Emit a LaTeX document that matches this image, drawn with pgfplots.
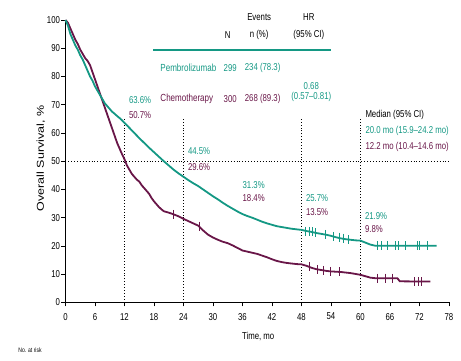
\documentclass[border=0pt]{standalone}
\usepackage{graphicx}
\usepackage{pgfplots}
\pgfplotsset{compat=1.18}
\usepackage{fontspec}
\setmainfont[FakeStretch=0.78]{Liberation Sans}
\definecolor{pem}{RGB}{20,152,132}
\definecolor{che}{RGB}{105,22,72}
\begin{document}
\begin{tikzpicture}
\useasboundingbox (-65.5pt,-58.5pt) rectangle (395.5pt,302.5pt);
\begin{axis}[
  scale only axis, width=383.5pt, height=282.5pt,
  xmin=0, xmax=78, ymin=0, ymax=100,
  axis lines=left, axis line style={-, line width=1.1pt},
  xtick={0,6,...,78}, ytick={0,10,...,100},
  tick align=outside, major tick length=4pt,
  tick style={line width=0.9pt, black},
  clip=false,
  /pgf/number format/assume math mode=true,
  ticklabel style={font=\fontsize{10}{11}\selectfont},
  xticklabel style={yshift=-3pt},
  yticklabel style={xshift=2pt},
]
% reference lines
\addplot[black, dotted, line width=0.9pt] coordinates {(0,50) (78,50)};
\addplot[black, dotted, line width=0.9pt] coordinates {(12,0) (12,65)};
\addplot[black, dotted, line width=0.9pt] coordinates {(24,0) (24,65)};
\addplot[black, dotted, line width=0.9pt] coordinates {(48,0) (48,65)};
\addplot[black, dotted, line width=0.9pt] coordinates {(60,0) (60,65)};
% chemotherapy
\addplot[che, line width=1.8pt] coordinates {
(0,100) (0.5,99) (1,97) (1.5,95) (2,93) (2.5,91.5) (3,89.5) (3.5,88) (4,86.5) (4.5,85.5)
(5,84) (5.5,81.5) (6,79) (6.5,76.5) (7,74) (7.5,71.5) (8,69) (8.5,66.5) (9,64) (9.5,61.5)
(10,59) (10.5,56.5) (11,54.5) (11.5,52.5) (12,50.7) (12.5,48.5) (13,47) (13.5,45.5) (14,44.5)
(14.5,43.5) (15,42.8) (15.5,41.5) (16,40.5) (16.5,39.5) (17,38.5) (17.5,37) (18,35.8)
(18.5,34.8) (19,33.8) (19.5,33) (20,32.3) (21,31.8) (22,31.2) (23,30.5) (24,29.6) (25,28.8)
(26,28) (27,27.2) (28,25.5) (29,24) (30,23) (31,22.2) (32,21.5) (33,21) (34,20.2) (35,19.3)
(36,18.4) (37,18) (38,17.6) (39,17.2) (40,16.6) (41,16) (42,15.3) (43,14.7) (44,14.3) (45,14.0)
(46,13.8) (47,13.6) (48,13.5) (49,13) (50,12.3) (51,11.8) (52,11.5) (53,11.2) (54,11) (55,10.9)
(56,10.8) (57,10.6) (58,10.4) (59,10.1) (60,9.8) (61,9.3) (62,8.8) (63,8.6) (67.5,8.6) (68,7.5)
(74.2,7.4)};
\addplot[che, only marks, mark=|, mark size=4.5pt, line width=0.7pt] coordinates {
(22,31.2) (27.2,27) (49.5,12.8) (51.2,11.7) (52.5,11.4) (53.8,11) (55.6,10.9)
(63.5,8.6) (65,8.6) (66.5,8.6) (71,7.4) (71.8,7.4) (72.3,7.4)};
% pembrolizumab
\addplot[pem, line width=1.8pt] coordinates {
(0,100) (0.5,98) (1,95) (1.5,93) (2,91) (2.5,89.5) (3,87.5) (3.5,86) (4,84) (4.5,82) (5,80)
(5.5,78.5) (6,76.5) (6.5,75) (7,73.5) (7.5,72) (8,70.5) (8.5,69.5) (9,68.5) (9.5,67.5) (10,66.8)
(10.5,66) (11,65.3) (11.5,64.5) (12,63.6) (13,61.8) (14,60) (15,58.2) (16,56.5) (17,54.8)
(18,53.2) (19,51.6) (20,50) (21,48.5) (22,47) (23,45.7) (24,44.5) (25,43.3) (26,42.2) (27,41.2)
(28,40) (29,38.8) (30,37.6) (31,36.5) (32,35.3) (33,34.2) (34,33.2) (35,32.2) (36,31.3)
(37,30.6) (38,30) (39,29.3) (40,28.6) (41,28) (42,27.5) (43,27) (44,26.7) (45,26.4) (46,26.1)
(47,25.9) (48,25.7) (49,25.3) (50,25) (51,24.6) (52,24.3) (53,24.0) (54,23.6) (55,23.1)
(56,22.7) (57,22.4) (58,22.2) (59,22.0) (60,21.9) (61,21.2) (62,20.5) (63,20.1) (75.5,20.1)};
\addplot[pem, only marks, mark=|, mark size=4.5pt, line width=0.7pt] coordinates {
(48.8,25.3) (49.5,25.2) (50.2,25) (50.8,24.7) (52.8,24.1) (54.5,23.4) (55.6,23.1) (56.5,22.8)
(57.5,22.3) (63.5,20.1) (64.3,20.1) (65.5,20.1) (67,20.1) (67.8,20.1) (69.2,20.1) (71.5,20.1)
(72,20.1) (73.5,20.1)};
% labels
\begin{scope}[font=\fontsize{10}{11}\selectfont]
\node[rotate=90] at (axis cs:-5.0,51) {\scalebox{1.6}[1]{Overall Survival, \%}};
\node at (axis cs:39.2,-12.2) {Time, mo};
\node[anchor=west, font=\fontsize{6.5}{7}\selectfont] at (axis cs:-10.3,-16.8) {No. at risk};
% table
\node at (axis cs:39.4,101) {Events};
\node at (axis cs:49.5,101) {HR};
\node at (axis cs:33.0,94.7) {N};
\node at (axis cs:39.4,94.7) {n (\%)};
\node at (axis cs:49.5,94.7) {(95\% CI)};
\draw[pem, line width=1.8pt] (axis cs:17.8,89.4) -- (axis cs:54.0,89.4);
\node[anchor=west, pem, font=\fontsize{10.3}{11}\selectfont] at (axis cs:18.6,83) {Pembrolizumab};
\node[pem] at (axis cs:33.5,83) {299};
\node[pem] at (axis cs:40.1,83) {234 (78.3)};
\node[anchor=west, che, font=\fontsize{10.3}{11}\selectfont] at (axis cs:18.6,72) {Chemotherapy};
\node[che] at (axis cs:33.5,72) {300};
\node[che] at (axis cs:40.1,72) {268 (89.3)};
\node[pem] at (axis cs:50.0,76.5) {0.68};
\node[pem] at (axis cs:50.0,72.8) {(0.57--0.81)};
% median
\node[anchor=west] at (axis cs:60.3,66.4) {Median (95\% CI)};
\node[anchor=west, pem] at (axis cs:60.3,60.6) {20.0 mo (15.9--24.2 mo)};
\node[anchor=west, che] at (axis cs:60.3,55.2) {12.2 mo (10.4--14.6 mo)};
% landmark labels
\node[anchor=west, pem] at (axis cs:12.2,71.5) {63.6\%};
\node[anchor=west, che] at (axis cs:12.2,66.5) {50.7\%};
\node[anchor=west, pem] at (axis cs:24.2,53.5) {44.5\%};
\node[anchor=west, che] at (axis cs:24.2,48) {29.6\%};
\node[anchor=west, pem] at (axis cs:35.3,41.5) {31.3\%};
\node[anchor=west, che] at (axis cs:35.3,37) {18.4\%};
\node[anchor=west, pem] at (axis cs:48.2,37) {25.7\%};
\node[anchor=west, che] at (axis cs:48.2,32) {13.5\%};
\node[anchor=west, pem] at (axis cs:60.2,30.5) {21.9\%};
\node[anchor=west, che] at (axis cs:60.2,26) {9.8\%};
\end{scope}
\end{axis}
\end{tikzpicture}
\end{document}
